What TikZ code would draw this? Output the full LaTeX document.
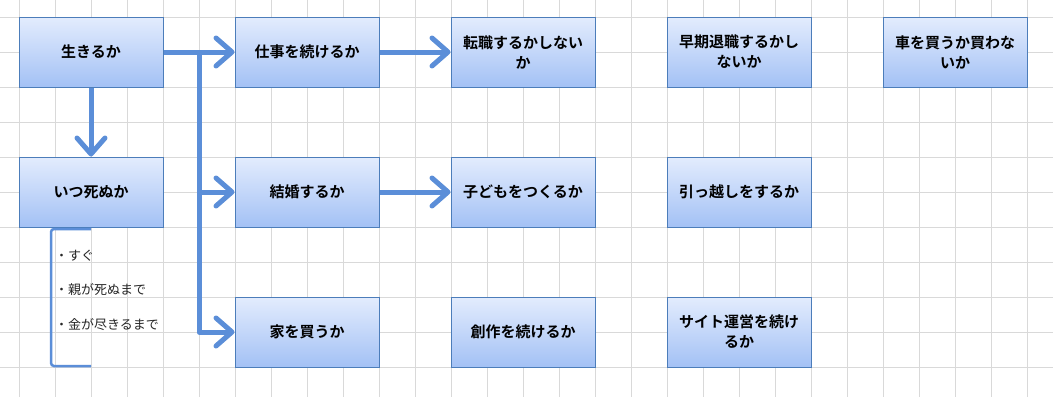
\documentclass[tikz,border=0pt]{standalone}
\usepackage{fontspec}
\newfontfamily\jpb{Noto Sans CJK JP}[BoldFont={* Bold}]
\newfontfamily\jp{Noto Sans CJK JP}
\usetikzlibrary{arrows.meta,shadows,calc}
\definecolor{gridc}{HTML}{D9D9D9}
\definecolor{boxtop}{HTML}{E3ECFD}
\definecolor{boxbot}{HTML}{A3C1F5}
\definecolor{boxline}{HTML}{4C7DBA}
\definecolor{arrowc}{HTML}{5B8ED8}
\tikzset{
  qbox/.style={draw=boxline, line width=1pt, top color=boxtop, bottom color=boxbot,
    minimum width=144pt, minimum height=70pt, inner sep=0pt, align=center,
    font=\jpb\bfseries\fontsize{15}{20}\selectfont, text=black,
    drop shadow={shadow xshift=1.2pt, shadow yshift=-1.2pt, opacity=0.25, fill=black}},
  conn/.style={draw=arrowc, line width=5pt, line join=round,
    -{Straight Barb[length=16pt, width=28pt, round, line width=5pt]}},
  trunk/.style={draw=arrowc, line width=5pt, line join=round, line cap=butt},
  bracketline/.style={draw=arrowc, line width=2.5pt, rounded corners=3pt},
  note/.style={anchor=west, inner sep=0pt, font=\jp\fontsize{13}{15}\selectfont, text=black!85}
}
\begin{document}
\begin{tikzpicture}[x=1pt, y=-1pt]
\useasboundingbox (0,0) rectangle (1053,397);
\fill[white] (0,0) rectangle (1053,397);
% grid
\foreach \k in {0,...,28} { \draw[gridc, line width=1pt] (19+36*\k,0) -- (19+36*\k,397); }
\foreach \k in {0,...,10} { \draw[gridc, line width=1pt] (0,17+35*\k) -- (1053,17+35*\k); }
% boxes
\node[qbox] (live)   at (91,52)   {生きるか};
\node[qbox] (work)   at (307,52)  {仕事を続けるか};
\node[qbox] (job)    at (523,52)  {転職するかしない\\か};
\node[qbox] (retire) at (739,52)  {早期退職するかし\\ないか};
\node[qbox] (car)    at (955,52)  {車を買うか買わな\\いか};
\node[qbox] (die)    at (91,192)  {いつ死ぬか};
\node[qbox] (marry)  at (307,192) {結婚するか};
\node[qbox] (kids)   at (523,192) {子どもをつくるか};
\node[qbox] (move)   at (739,192) {引っ越しをするか};
\node[qbox] (house)  at (307,332) {家を買うか};
\node[qbox] (art)    at (523,332) {創作を続けるか};
\node[qbox] (site)   at (739,332) {サイト運営を続け\\るか};
% connectors
\coordinate (j) at (199,52);
\draw[conn] (live.east) -- (work.west);
\draw[trunk] (j) -- (j |- house.west) -- ($(house.west)+(-20,0)$);
\draw[conn] (j |- house.west) -- (house.west);
\draw[conn] (j |- marry.west) -- (marry.west);
\draw[conn] (work.east) -- (job.west);
\draw[conn] (marry.east) -- (kids.west);
\draw[conn] (live.south) -- (die.north);
% bracket
\coordinate (bt) at (91,229);
\coordinate (bb) at (91,366);
\draw[bracketline] (bt) -- (51,229) -- (51,366) -- (bb);
\node[note] (n1) at (55,256) {・すぐ};
\node[note] (n2) at (55,290) {・親が死ぬまで};
\node[note] (n3) at (55,325) {・金が尽きるまで};
\end{tikzpicture}
\end{document}
